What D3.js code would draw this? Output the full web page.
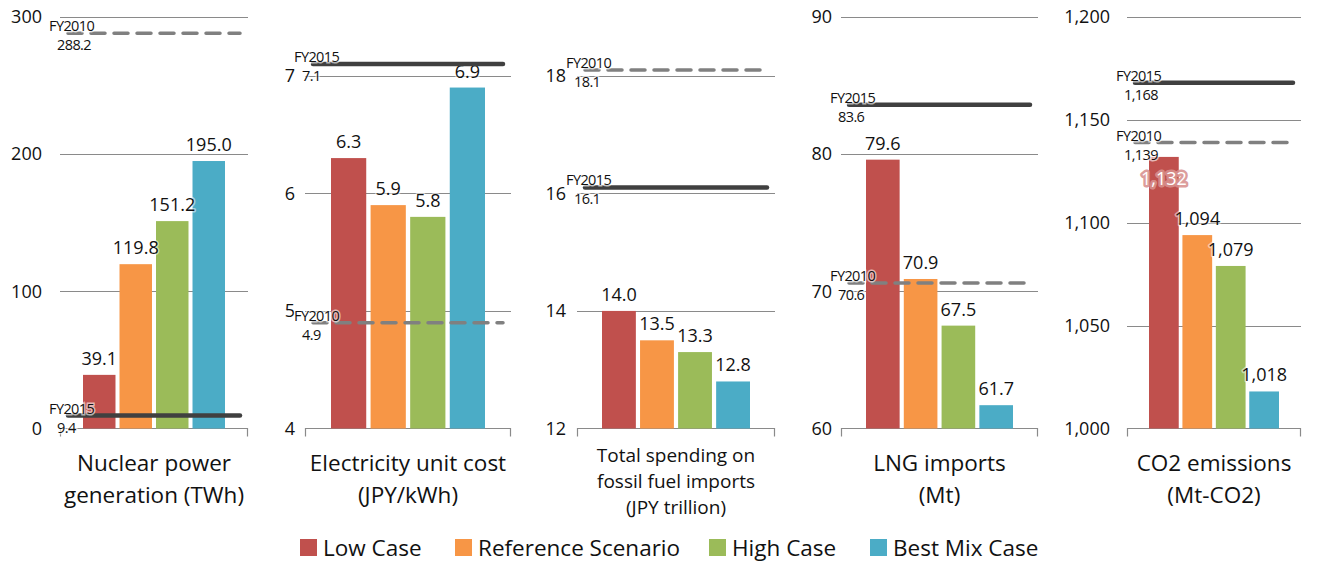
<!DOCTYPE html>
<html>
<head>
<meta charset="utf-8">
<script src="https://cdn.jsdelivr.net/npm/d3@7"></script>
<style>
  body { margin: 0; background: #fff; }
  text { font-family: "Open Sans", "Noto Sans", sans-serif; fill: #111; }
</style>
</head>
<body>
<div id="chart"></div>
<script>
// data
var categories = ["Low Case", "Reference Scenario", "High Case", "Best Mix Case"];
var colors = ["#C0504D", "#F79646", "#9BBB59", "#4BACC6"];

var nuclearValues = [39.1, 119.8, 151.2, 195.0];
var unitCostValues = [6.3, 5.9, 5.8, 6.9];
var fossilValues = [14.0, 13.5, 13.3, 12.8];
var lngValues = [79.6, 70.9, 67.5, 61.7];
var co2Values = [1132, 1094, 1079, 1018];

var fy2010Values = [288.2, 4.9, 18.1, 70.6, 1139];
var fy2015Values = [9.4, 7.1, 16.1, 83.6, 1168];

var panelTitles = [
    ["Nuclear power", "generation (TWh)"],
    ["Electricity unit cost", "(JPY/kWh)"],
    ["Total spending on", "fossil fuel imports", "(JPY trillion)"],
    ["LNG imports", "(Mt)"],
    ["CO2 emissions", "(Mt-CO2)"]
];

var tickValues = [
    [0, 100, 200, 300],
    [4, 5, 6, 7],
    [12, 14, 16, 18],
    [60, 70, 80, 90],
    [1000, 1050, 1100, 1150, 1200]
];

var domains = [[0, 300], [4, 7.5], [12, 19], [60, 90], [1000, 1200]];

// layout of each small panel
var panels = [
    { values: nuclearValues, left: 60, right: 248, inset: 23, pad: 18, fmt: d3.format(".1f"), tfmt: d3.format("d"), titleSize: 22.5 },
    { values: unitCostValues, left: 305, right: 511, inset: 26, pad: 10, fmt: d3.format(".1f"), tfmt: d3.format("d"), titleSize: 22.5 },
    { values: fossilValues, left: 577, right: 775, inset: 25, pad: 11, fmt: d3.format(".1f"), tfmt: d3.format("d"), titleSize: 19 },
    { values: lngValues, left: 841, right: 1038, inset: 25, pad: 9, fmt: d3.format(".1f"), tfmt: d3.format("d"), titleSize: 22.5 },
    { values: co2Values, left: 1127, right: 1301, inset: 22, pad: 17, fmt: d3.format(","), tfmt: d3.format(","), titleSize: 22.5, inside: [0] }
];

var svgWidth = 1319;
var svgHeight = 570;
var plotBottom = 428.5;
var plotTop = 17;

var svg = d3.select("#chart")
    .append("svg")
    .attr("width", svgWidth)
    .attr("height", svgHeight);

panels.forEach(function(p, i) {
    var g = svg.append("g");

    var y = d3.scaleLinear()
        .domain(domains[i])
        .range([plotBottom, plotTop]);

    var x = d3.scaleBand()
        .domain(categories)
        .range([p.left + p.inset, p.right - p.inset])
        .paddingInner(0.11);

    // gridlines
    g.selectAll(".grid")
        .data(tickValues[i].slice(1))
        .enter()
        .append("line")
        .attr("x1", p.left)
        .attr("x2", p.right)
        .attr("y1", d => Math.round(y(d)) + 0.5)
        .attr("y2", d => Math.round(y(d)) + 0.5)
        .attr("stroke", "#8a8a8a")
        .attr("stroke-width", 1);

    // y axis labels
    var yAxis = g.append("g")
        .attr("transform", `translate(${p.left}, 0)`)
        .call(d3.axisLeft(y).tickValues(tickValues[i]).tickFormat(p.tfmt).tickSize(0).tickPadding(p.pad));
    yAxis.select(".domain").remove();
    yAxis.selectAll("text")
        .style("font-family", "'Open Sans', sans-serif")
        .style("font-size", "18px")
        .attr("fill", "#111");

    // bottom axis line with end ticks
    g.append("path")
        .attr("d", `M${p.left + 0.5},${plotBottom + 8}V${plotBottom}H${p.right - 0.5}V${plotBottom + 8}`)
        .attr("fill", "none")
        .attr("stroke", "#8a8a8a")
        .attr("stroke-width", 1.2);

    // bars
    g.selectAll(".bar")
        .data(p.values)
        .enter()
        .append("rect")
        .attr("x", (d, j) => x(categories[j]))
        .attr("width", x.bandwidth())
        .attr("y", d => y(d))
        .attr("height", d => plotBottom - y(d))
        .attr("fill", (d, j) => colors[j]);

    // bar value labels
    var inside = p.inside || [];
    g.selectAll(".val")
        .data(p.values)
        .enter()
        .append("text")
        .attr("x", (d, j) => x(categories[j]) + x.bandwidth() / 2)
        .attr("y", (d, j) => inside.indexOf(j) >= 0 ? y(d) + 28 : y(d) - 10)
        .attr("text-anchor", "middle")
        .style("font-size", "18px")
        .style("fill", (d, j) => inside.indexOf(j) >= 0 ? "#fff" : "#111")
        .style("stroke", (d, j) => inside.indexOf(j) >= 0 ? "#d8908e" : "#fff")
        .style("stroke-width", (d, j) => inside.indexOf(j) >= 0 ? 5 : 3)
        .style("stroke-opacity", (d, j) => inside.indexOf(j) >= 0 ? 0.9 : 0.5)
        .style("stroke-linejoin", "round")
        .style("paint-order", "stroke")
        .text(d => p.fmt(d));

    // reference lines FY2010 (dashed) and FY2015 (solid)
    var refs = [
        { label: "FY2010", value: fy2010Values[i], dash: "14,9", color: "#808080", width: 3.5 },
        { label: "FY2015", value: fy2015Values[i], dash: null, color: "#404040", width: 4.5 }
    ];
    var lx1 = p.left + 8;
    var lx2 = p.right - 8;

    refs.forEach(function(r) {
        var ly = y(r.value);
        g.append("line")
            .attr("x1", lx1)
            .attr("x2", lx2)
            .attr("y1", ly)
            .attr("y2", ly)
            .attr("stroke", r.color)
            .attr("stroke-width", r.width)
            .attr("stroke-linecap", "round")
            .attr("stroke-dasharray", r.dash);

        g.append("text")
            .attr("x", lx1 - 19)
            .attr("y", ly - 2)
            .style("font-size", "14.5px")
            .style("letter-spacing", "-0.6px")
            .style("stroke", "#fff")
            .style("stroke-width", 3)
            .style("stroke-opacity", 0.6)
            .style("paint-order", "stroke")
            .text(r.label);

        g.append("text")
            .attr("x", lx1 - 11)
            .attr("y", ly + 17)
            .style("font-size", "14.5px")
            .style("letter-spacing", "-0.6px")
            .style("stroke", "#fff")
            .style("stroke-width", 3)
            .style("stroke-opacity", 0.6)
            .style("paint-order", "stroke")
            .text(p.fmt(r.value));
    });

    // panel title under the axis
    var cx = (p.left + p.right) / 2;
    var lineGap = p.titleSize > 20 ? 32 : 26;
    var firstY = p.titleSize > 20 ? 471 : 462;
    g.selectAll(".title")
        .data(panelTitles[i])
        .enter()
        .append("text")
        .attr("x", cx)
        .attr("y", (d, k) => firstY + k * lineGap)
        .attr("text-anchor", "middle")
        .style("font-size", p.titleSize + "px")
        .text(d => d);
});

// legend
var legendX = [300, 455, 709, 870];
var legend = svg.append("g");
categories.forEach(function(c, j) {
    legend.append("rect")
        .attr("x", legendX[j])
        .attr("y", 539)
        .attr("width", 17)
        .attr("height", 17)
        .attr("fill", colors[j]);
    legend.append("text")
        .attr("x", legendX[j] + 23)
        .attr("y", 556)
        .style("font-size", "22.5px")
        .text(c);
});
</script>
</body>
</html>
